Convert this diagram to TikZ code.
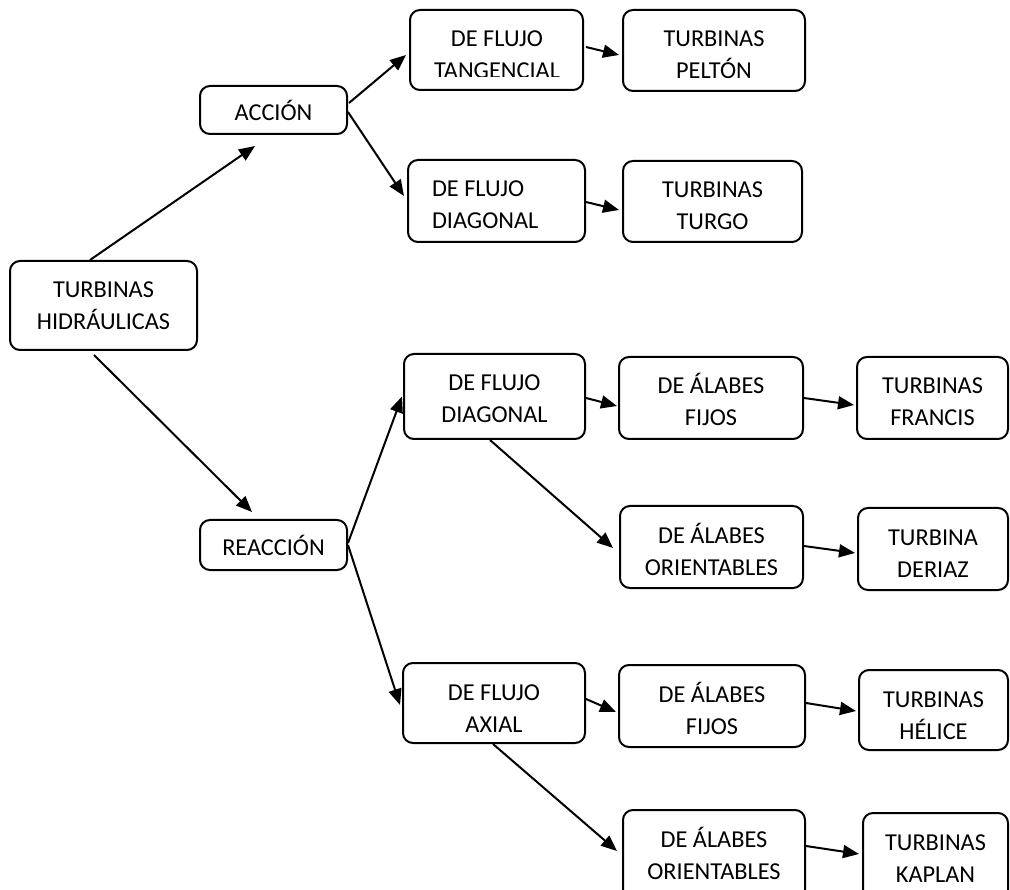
\documentclass[tikz,border=0pt]{standalone}
\usepackage{fontspec}
\setmainfont{Carlito}
\usetikzlibrary{arrows.meta}
\begin{document}
\begin{tikzpicture}[x=1pt,y=-1pt,
  box/.style={draw, line width=2pt, rounded corners=10pt, inner sep=0pt,
    align=center, font=\fontsize{24.3}{32}\selectfont, text height=69pt},
  arr/.style={line width=2pt, -{Triangle[length=16pt,width=13pt]}}]
\useasboundingbox (0,0) rectangle (1010,890);
\clip (0,0) rectangle (1010,890);

% main branches
\node[box, minimum width=187pt, text depth=20pt] (h) at (103.5,305.5) {TURBINAS\\HIDRÁULICAS};
\node[box, minimum width=147pt, text height=34.5pt, text depth=13.5pt] (acc) at (273.5,110) {ACCIÓN};
\node[box, minimum width=147pt, text height=35pt, text depth=15pt] (rea) at (273.5,545) {REACCIÓN};

% action turbines
\node[box, minimum width=173pt, minimum height=80pt] (tan) at (496.5,50) {};
\begin{scope}
  \clip (405,5) rectangle (590,76.5);
  \node[box, draw=none, text depth=11pt] (tant) at (497,50) {DE FLUJO\\TANGENCIAL};
\end{scope}
\node[box, minimum width=182pt, text depth=12pt] (pel) at (714,50.5) {TURBINAS\\PELTÓN};
\node[box, align=flush left, text width=129pt, inner xsep=24pt, text height=37pt, text depth=45pt] (dia1) at (496.5,201) {DE FLUJO\\DIAGONAL};
\node[box, minimum width=179pt, text depth=12pt] (tur) at (712.5,201.5) {TURBINAS\\TURGO};

% reaction turbines, diagonal flow
\node[box, minimum width=181pt, text depth=16pt] (dia2) at (494.5,396.5) {DE FLUJO\\DIAGONAL};
\node[box, minimum width=184pt, text depth=13pt] (fij1) at (711,398) {DE ÁLABES\\FIJOS};
\node[box, minimum width=151pt, text depth=13pt] (fra) at (932.5,398) {TURBINAS\\FRANCIS};
\node[box, minimum width=183pt, text depth=13pt] (ori1) at (711.5,547) {DE ÁLABES\\ORIENTABLES};
\node[box, minimum width=150pt, text depth=13pt] (der) at (933,549) {TURBINA\\DERIAZ};

% reaction turbines, axial flow
\node[box, minimum width=182pt, text depth=11pt] (axi) at (494,703) {DE FLUJO\\AXIAL};
\node[box, minimum width=186pt, text depth=13pt] (fij2) at (712,706) {DE ÁLABES\\FIJOS};
\node[box, minimum width=149pt, text depth=11pt] (hel) at (933.5,710) {TURBINAS\\HÉLICE};
\node[box, minimum width=182pt, text depth=21pt] (ori2) at (714,855) {DE ÁLABES\\ORIENTABLES};
\node[box, minimum width=145pt, text depth=18pt] (kap) at (935.5,856.5) {TURBINAS\\KAPLAN};

% connectors
\draw[arr] ([xshift=-13.5pt]h.north) -- ([xshift=-18.5pt,yshift=-11pt]acc.south);
\draw[arr] ([xshift=-9.5pt,yshift=-4pt]h.south) -- ([xshift=-21.5pt,yshift=7pt]rea.north);
\draw[arr] ([xshift=1pt,yshift=7pt]acc.east) -- ([xshift=-3pt,yshift=-5pt]tan.west);
\draw[arr] ([yshift=-2pt]acc.east) -- ([xshift=-3pt,yshift=5pt]dia1.west);
\draw[arr] ([xshift=2pt,yshift=3pt]tan.east) -- ([xshift=-3pt,yshift=-4.5pt]pel.west);
\draw[arr] ([yshift=-1pt]dia1.east) -- ([xshift=-3pt,yshift=-8.5pt]tur.west);
\draw[arr] ([yshift=2pt]rea.east) -- ([xshift=-1pt]dia2.west);
\draw[arr] (rea.east) -- ([xshift=-2pt,yshift=-2pt]axi.west);
\draw[arr] ([yshift=-1.5pt]dia2.east) -- ([xshift=-1pt,yshift=-8pt]fij1.west);
\draw[arr] (fij1.east) -- ([xshift=-2pt,yshift=-7pt]fra.west);
\draw[arr] ([xshift=-4.5pt]dia2.south) -- ([xshift=-6pt,yshift=-1pt]ori1.west);
\draw[arr] ([yshift=1pt]ori1.east) -- ([xshift=-2pt,yshift=-4pt]der.west);
\draw[arr] ([yshift=4pt]axi.east) -- ([xshift=-2pt,yshift=-6pt]fij2.west);
\draw[arr] ([yshift=3pt]fij2.east) -- ([xshift=-2pt,yshift=-1pt]hel.west);
\draw[arr] ([xshift=-1pt]axi.south) -- ([xshift=-5pt,yshift=4pt]ori2.west);
\draw[arr] ([yshift=9pt]ori2.east) -- ([xshift=-3pt,yshift=2.5pt]kap.west);
\end{tikzpicture}
\end{document}
